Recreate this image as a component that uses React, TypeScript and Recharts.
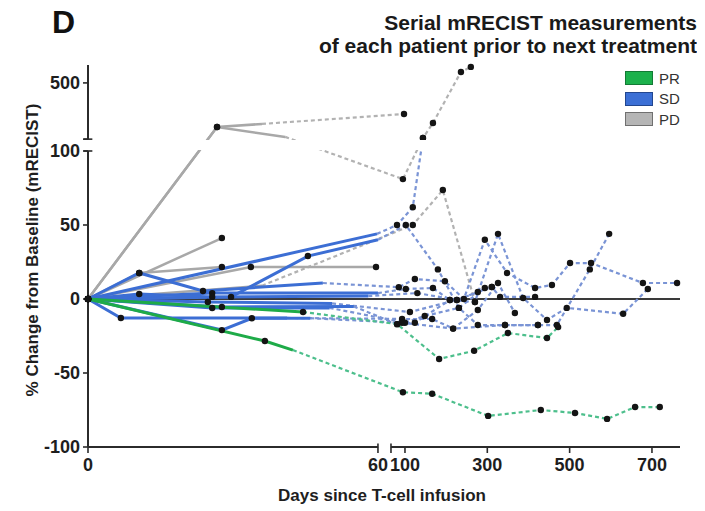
import React from 'react';
import { LineChart, Line, XAxis, YAxis, ReferenceLine, ReferenceArea } from 'recharts';

// ---- measurements: [day, % change] ; a trailing 0 marks a line end with no scan ----
type Scan = [number, number] | [number, number, 0];
type Response = 'PR' | 'SD' | 'PD';

// Partial responders
const PR_A_EARLY: Scan[] = [[0, 0], [36.6, -28.4], [42.4, -34.5, 0]];
const PR_A_LATE: Scan[] = [[95, -63], [166, -64], [302, -79], [430, -75], [513, -77], [591, -81], [659, -73], [719, -73]];
const PR_B_EARLY: Scan[] = [[0, 0], [44.5, -8.8]];
const PR_B_LATE: Scan[] = [[81, -17], [183, -40.5], [268, -35], [350, -23], [445, -26.4], [472, -19]];

// Progressive disease
const PD_A_EARLY: Scan[] = [[0, 0], [26.7, 186], [36, 208, 0]];
const PD_A_LATE: Scan[] = [[97.6, 279]];
const PD_B_EARLY: Scan[] = [[0, 0], [26.7, 186], [40.8, 116, 0]];
const PD_B_LATE: Scan[] = [[95, 81], [143.7, 108], [168, 215], [236, 578], [260, 614]];
const PD_C_EARLY: Scan[] = [[0, 0], [27.7, 41.2]];
const PD_D_EARLY: Scan[] = [[0, 0], [10.6, 17.6], [27.7, 21.6]];
const PD_E_EARLY: Scan[] = [[0, 0], [33.7, 21.6], [59.6, 21.6]];
const PD_F_EARLY: Scan[] = [[0, 0], [36, 9, 0]];
const PD_F_LATE: Scan[] = [[119, 50], [192, 73.6], [270, -2]];

// Stable disease
const SD_A_EARLY: Scan[] = [[0, 0], [59.8, 44, 0]];
const SD_A_LATE: Scan[] = [[80.6, 50], [119, 62], [143.7, 108]];
const SD_B_EARLY: Scan[] = [[0, 0], [29.6, 1.4], [45.5, 29], [60, 40, 0]];
const SD_B_LATE: Scan[] = [[102, 50], [180, 20], [231, -6], [277, -17.6], [343, -17.6], [423, -17.6], [469, -17.6], [549, 20], [596, 44]];
const SD_C_EARLY: Scan[] = [[0, 0], [10.6, 17.6], [23.8, 5.4], [48.6, 10.8, 0]];
const SD_C_LATE: Scan[] = [[85, 8], [124, 13.5], [197, 12], [243, 0], [294, 40], [348, 17.6], [416, 7.4], [457, 9.5], [501, 24.3], [552, 24.3], [678, 10.8], [761, 10.8]];
const SD_D_EARLY: Scan[] = [[0, 0], [25.7, 4], [60, 4, 0]];
const SD_D_LATE: Scan[] = [[102, 6.8], [168, 7.4], [209, -0.7], [270, -2], [326, 44], [387, 0.7], [445, -14.2], [493, -6], [630, -10], [690, 6.8]];
const SD_E_EARLY: Scan[] = [[0, 0], [24.8, -2], [50.5, -3, 0]];
const SD_E_LATE: Scan[] = [[112, -8.8], [226, -0.7], [277, 4.7], [311, 8.1], [331, 1.4], [416, 1.4]];
const SD_F_EARLY: Scan[] = [[0, 0], [6.8, -12.8], [41.2, -12.8, 0]];
const SD_F_LATE: Scan[] = [[93, -13.5], [166, -13.5], [217, -20], [277, -7.4], [326, 10.8], [367, -9.5]];
const SD_G_EARLY: Scan[] = [[0, 0], [25.7, -6.1], [50, -6, 0]];
const SD_G_LATE: Scan[] = [[100, -16], [148, -11.5], [231, -6], [294, 7.4]];
const SD_H_EARLY: Scan[] = [[0, 0], [27.7, -5.4], [55, -5, 0]];
const SD_H_LATE: Scan[] = [[81, -17], [124, -16], [209, -0.7]];
const SD_I_EARLY: Scan[] = [[0, 0], [27.7, -21], [33.9, -13], [46, -13, 0]];
const SD_I_LATE: Scan[] = [[93, -16], [217, -20], [343, -17.6], [423, -17.6]];
const SD_J_EARLY: Scan[] = [[0, 0], [10.6, 3.4], [25.7, 1.4], [58, 2, 0]];
const SD_J_LATE: Scan[] = [[130, 4], [226, -0.7], [311, 8.1]];

const PATIENTS: { response: Response; early: Scan[]; late: Scan[] }[] = [
  { response: 'PD', early: PD_A_EARLY, late: PD_A_LATE },
  { response: 'PD', early: PD_B_EARLY, late: PD_B_LATE },
  { response: 'PD', early: PD_C_EARLY, late: [] },
  { response: 'PD', early: PD_D_EARLY, late: [] },
  { response: 'PD', early: PD_E_EARLY, late: [] },
  { response: 'PD', early: PD_F_EARLY, late: PD_F_LATE },
  { response: 'SD', early: SD_A_EARLY, late: SD_A_LATE },
  { response: 'SD', early: SD_B_EARLY, late: SD_B_LATE },
  { response: 'SD', early: SD_C_EARLY, late: SD_C_LATE },
  { response: 'SD', early: SD_D_EARLY, late: SD_D_LATE },
  { response: 'SD', early: SD_E_EARLY, late: SD_E_LATE },
  { response: 'SD', early: SD_F_EARLY, late: SD_F_LATE },
  { response: 'SD', early: SD_G_EARLY, late: SD_G_LATE },
  { response: 'SD', early: SD_H_EARLY, late: SD_H_LATE },
  { response: 'SD', early: SD_I_EARLY, late: SD_I_LATE },
  { response: 'SD', early: SD_J_EARLY, late: SD_J_LATE },
  { response: 'PR', early: PR_A_EARLY, late: PR_A_LATE },
  { response: 'PR', early: PR_B_EARLY, late: PR_B_LATE },
];

const RESPONSE_GROUPS: Response[] = ['PR', 'SD', 'PD'];
const X_TICK_DAYS = [0, 60, 100, 300, 500, 700];
const Y_TICK_VALUES = [-100, -50, 0, 50, 100, 500];

// ---- broken-axis scales ----
// x: days 0-60 at full width, then a compressed segment from ~day 66
const LEFT_DAYS = 60;
const RIGHT_START_DAY = 66;
const RIGHT_PIVOT_DAY = 100;
const RIGHT_PIVOT_POS = 65.59;
const RIGHT_RATE = 0.08518;
const X_MAX = 122.5;
// y: -100..100 linear, then a compressed segment above the break
const LOWER_TOP = 100;
const UPPER_BASE = 108;
const UPPER_RATE = 0.095;
const Y_MIN = -100;
const Y_MAX = 158.1;

const dayToAxis = (day: number) =>
  day <= LEFT_DAYS ? day : RIGHT_PIVOT_POS + RIGHT_RATE * (day - RIGHT_PIVOT_DAY);
const pctToAxis = (pct: number) =>
  pct <= LOWER_TOP ? pct : UPPER_BASE + UPPER_RATE * (pct - LOWER_TOP);

const toPoint = (s: Scan, allowDot = true) => ({
  x: dayToAxis(s[0]),
  y: pctToAxis(s[1]),
  scan: allowDot && s[2] !== 0,
});

const X_TICKS = [...X_TICK_DAYS.map(dayToAxis), dayToAxis(RIGHT_START_DAY)].sort((a, b) => a - b);
const Y_TICKS = [...Y_TICK_VALUES.map(pctToAxis), UPPER_BASE].sort((a, b) => a - b);

const near = (a: number, b: number) => Math.abs(a - b) < 1e-6;
const formatX = (v: number) => {
  const d = X_TICK_DAYS.find((day) => near(dayToAxis(day), v));
  return d === undefined ? '' : String(d);
};
const formatY = (v: number) => {
  const p = Y_TICK_VALUES.find((pct) => near(pctToAxis(pct), v));
  return p === undefined ? '' : String(p);
};

const FONT = '"Liberation Sans", Arial, Helvetica, sans-serif';
const AXIS_COLOR = '#2b2b2b';

const COLORS: Record<Response, { solid: string; dashed: string; box: string; border: string; width: number }> = {
  PR: { solid: '#1eab48', dashed: '#4dbf8c', box: '#1cb14c', border: '#137a35', width: 3 },
  SD: { solid: '#3c6ed4', dashed: '#7a94d5', box: '#3b6fd5', border: '#22468f', width: 3 },
  PD: { solid: '#a8a8a8', dashed: '#b2b2b2', box: '#b5b5b5', border: '#707070', width: 2.5 },
};

const renderScan = (props: any) => {
  const { cx, cy, payload, index } = props;
  if (!payload || !payload.scan || cx == null || cy == null) return <g key={`n${index}`} />;
  return <circle key={`d${index}`} cx={cx} cy={cy} r={3.2} fill="#141414" />;
};

const tickStyle = { fontSize: 18, fontWeight: 700, fill: '#1e1e1e', fontFamily: FONT };

export default function App() {
  const series = PATIENTS.map((p) => {
    const early = p.early.map((s) => toPoint(s));
    const late = p.late.length
      ? [toPoint(p.early[p.early.length - 1], false), ...p.late.map((s) => toPoint(s))]
      : [];
    return { response: p.response, early, late };
  });

  return (
    <div style={{ position: 'relative', width: 697, height: 503, fontFamily: FONT }}>
      <LineChart
        width={697}
        height={503}
        margin={{ top: 57, right: 25, left: 40, bottom: 34 }}
      >
        <XAxis
          type="number"
          dataKey="x"
          domain={[0, X_MAX]}
          ticks={X_TICKS}
          interval={0}
          tickFormatter={formatX}
          axisLine={false}
          tickLine={{ stroke: AXIS_COLOR, strokeWidth: 1.6 }}
          tickSize={6}
          tickMargin={5}
          tick={tickStyle}
          height={30}
        />
        <YAxis
          type="number"
          dataKey="y"
          domain={[Y_MIN, Y_MAX]}
          ticks={Y_TICKS}
          interval={0}
          tickFormatter={formatY}
          axisLine={false}
          tickLine={{ stroke: AXIS_COLOR, strokeWidth: 1.6 }}
          tickSize={5}
          tickMargin={3}
          tick={tickStyle}
          width={40}
        />

        {/* zero reference */}
        <ReferenceLine y={0} stroke="#3a3a3a" strokeWidth={2} ifOverflow="visible" />

        {/* follow-up scans (dashed) */}
        {series.map((s, i) =>
          s.late.length ? (
            <Line
              key={`late-${i}`}
              data={s.late}
              dataKey="y"
              type="linear"
              stroke={COLORS[s.response].dashed}
              strokeWidth={2.2}
              strokeDasharray="4 3"
              dot={renderScan}
              activeDot={false}
              isAnimationActive={false}
              legendType="none"
            />
          ) : null
        )}

        {/* first-treatment period (solid) */}
        {series.map((s, i) => (
          <Line
            key={`early-${i}`}
            data={s.early}
            dataKey="y"
            type="linear"
            stroke={COLORS[s.response].solid}
            strokeWidth={COLORS[s.response].width}
            dot={renderScan}
            activeDot={false}
            isAnimationActive={false}
            legendType="none"
          />
        ))}

        {/* y-axis break */}
        <ReferenceArea
          x1={0.4}
          x2={X_MAX}
          y1={LOWER_TOP + 0.6}
          y2={UPPER_BASE - 0.6}
          fill="#ffffff"
          fillOpacity={1}
          stroke="none"
          ifOverflow="visible"
          zIndex={1500}
        />

        {/* broken axis lines */}
        <ReferenceLine segment={[{ x: 0, y: Y_MIN }, { x: 0, y: LOWER_TOP }]} stroke={AXIS_COLOR} strokeWidth={2} ifOverflow="visible" />
        <ReferenceLine segment={[{ x: 0, y: UPPER_BASE }, { x: 0, y: Y_MAX }]} stroke={AXIS_COLOR} strokeWidth={2} ifOverflow="visible" />
        <ReferenceLine segment={[{ x: -0.9, y: LOWER_TOP }, { x: 0.9, y: LOWER_TOP }]} stroke={AXIS_COLOR} strokeWidth={1.6} ifOverflow="visible" />
        <ReferenceLine segment={[{ x: -0.9, y: UPPER_BASE }, { x: 0.9, y: UPPER_BASE }]} stroke={AXIS_COLOR} strokeWidth={1.6} ifOverflow="visible" />
        <ReferenceLine segment={[{ x: 0, y: Y_MIN }, { x: LEFT_DAYS, y: Y_MIN }]} stroke={AXIS_COLOR} strokeWidth={2} ifOverflow="visible" />
        <ReferenceLine segment={[{ x: dayToAxis(RIGHT_START_DAY), y: Y_MIN }, { x: X_MAX, y: Y_MIN }]} stroke={AXIS_COLOR} strokeWidth={2} ifOverflow="visible" />
        <ReferenceLine segment={[{ x: LEFT_DAYS, y: Y_MIN - 0.1 }, { x: LEFT_DAYS, y: Y_MIN + 2.4 }]} stroke={AXIS_COLOR} strokeWidth={1.6} ifOverflow="visible" />
        <ReferenceLine segment={[{ x: dayToAxis(RIGHT_START_DAY), y: Y_MIN - 0.1 }, { x: dayToAxis(RIGHT_START_DAY), y: Y_MIN + 2.4 }]} stroke={AXIS_COLOR} strokeWidth={1.6} ifOverflow="visible" />
      </LineChart>

      {/* panel letter and title */}
      <div style={{ position: 'absolute', left: 44, top: -2, fontSize: 32, lineHeight: '32px', fontWeight: 700, color: '#111' }}>D</div>
      <div style={{ position: 'absolute', right: 8, top: 3, fontSize: 21, lineHeight: '23px', fontWeight: 700, color: '#1a1a1a', textAlign: 'right', whiteSpace: 'nowrap' }}>
        Serial mRECIST measurements
        <br />
        of each patient prior to next treatment
      </div>

      {/* legend */}
      <div style={{ position: 'absolute', left: 617, top: 60 }}>
        {RESPONSE_GROUPS.map((g) => (
          <div key={g} style={{ display: 'flex', alignItems: 'center', height: 20.5 }}>
            <div style={{ width: 26, height: 12, background: COLORS[g].box, border: `1px solid ${COLORS[g].border}` }} />
            <span style={{ marginLeft: 6, fontSize: 15, color: '#333' }}>{g}</span>
          </div>
        ))}
      </div>

      {/* axis titles */}
      <div style={{ position: 'absolute', left: 374, top: 478, transform: 'translateX(-50%)', fontSize: 17, lineHeight: '20px', fontWeight: 700, color: '#1e1e1e', whiteSpace: 'nowrap' }}>
        Days since T-cell infusion
      </div>
      <div style={{ position: 'absolute', left: 25, top: 242, transform: 'translate(-50%, -50%) rotate(-90deg)', fontSize: 17, lineHeight: '20px', fontWeight: 700, color: '#1e1e1e', whiteSpace: 'nowrap' }}>
        % Change from Baseline (mRECIST)
      </div>
    </div>
  );
}
